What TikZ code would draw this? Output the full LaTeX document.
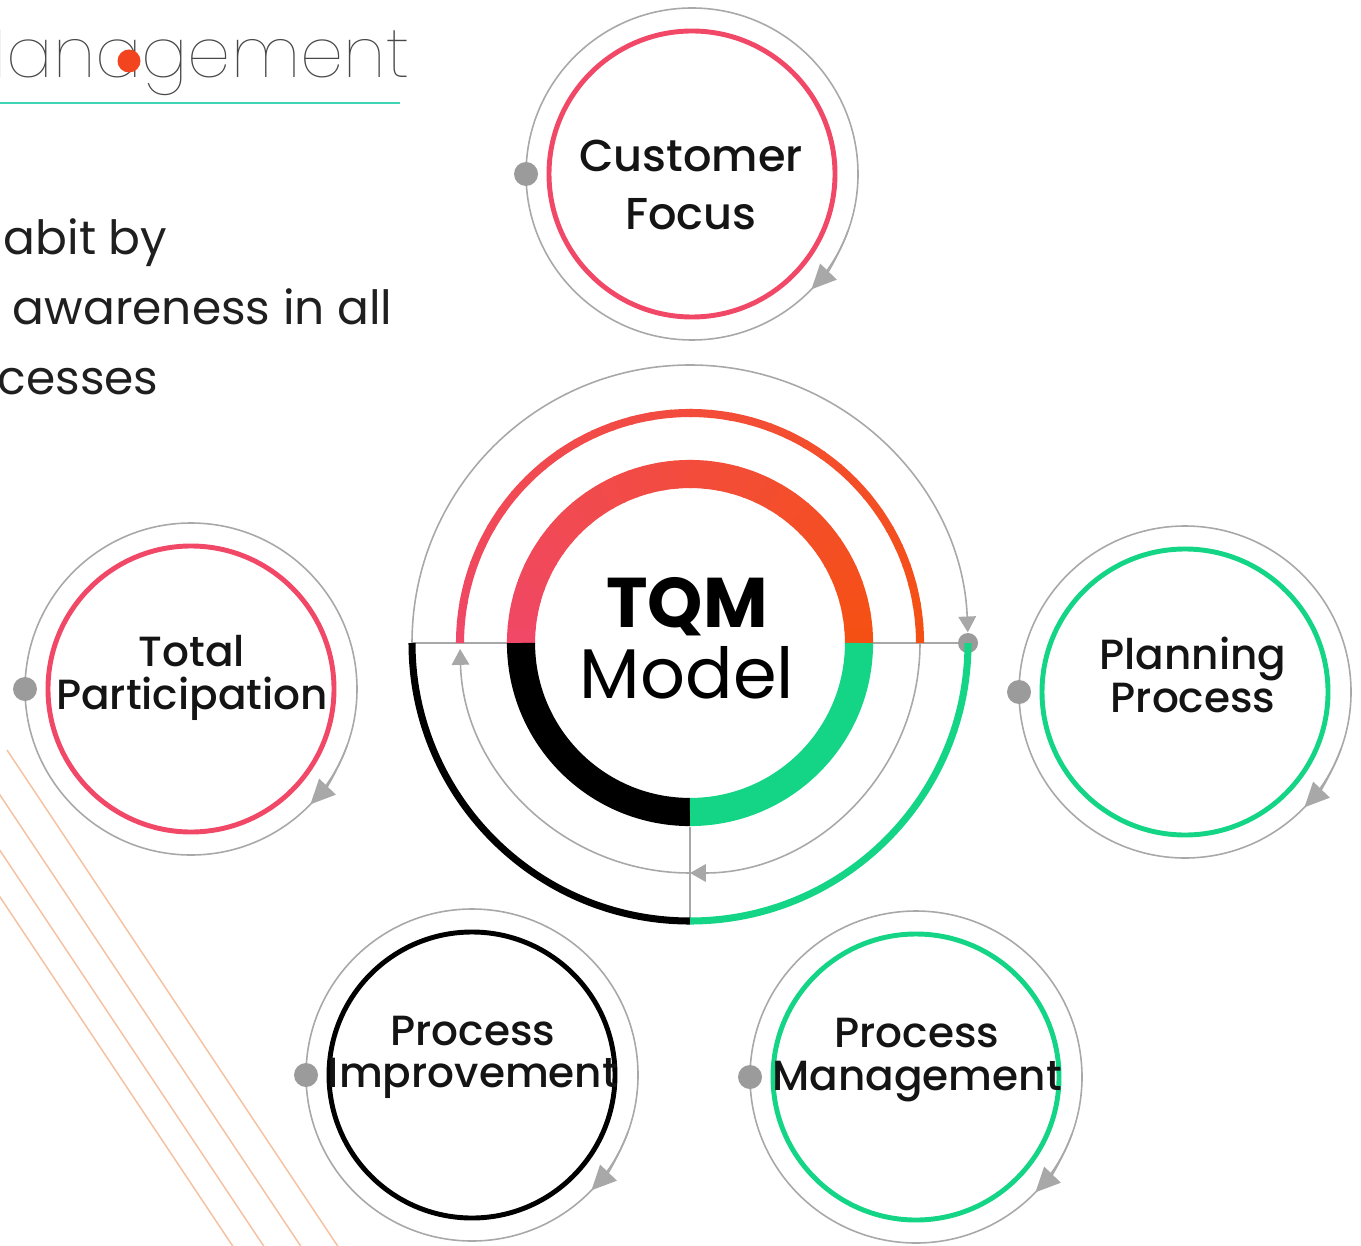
\documentclass[tikz,border=0pt]{standalone}
\usepackage{fontspec}
\setmainfont{Poppins}
\IfFontExistsTF{Poppins Medium}
  {\newfontfamily\medfont{Poppins Medium}}
  {\newfontfamily\medfont{Poppins}[FakeBold=0.4]}
\IfFontExistsTF{Poppins Thin}
  {\newfontfamily\thinfont{Poppins Thin}}
  {\IfFontExistsTF{Poppins ExtraLight}
    {\newfontfamily\thinfont{Poppins ExtraLight}}
    {\newfontfamily\thinfont{Poppins}}}
\usepackage{tikz}
\usetikzlibrary{arrows.meta}

\definecolor{tqmpink}{HTML}{F04866}
\definecolor{tqmorange}{HTML}{F55014}
\definecolor{tqmgreen}{HTML}{14D486}
\definecolor{ringgray}{HTML}{A8A8A8}
\definecolor{dotgray}{HTML}{9B9B9B}
\definecolor{titleteal}{HTML}{3ED6B4}
\definecolor{stripe}{HTML}{F5C0A0}
\definecolor{titledot}{HTML}{F2441E}

\begin{document}
\begin{tikzpicture}[x=0.01cm, y=0.01cm,
    thinring/.style={draw=ringgray, line width=0.45pt},
    cyclearrow/.style={-{Triangle[length=7pt, width=6.5pt]}},
    hubarrow/.style={-{Triangle[length=4.5pt, width=5pt]}},
    itemtext/.style={align=center, inner sep=0pt, text=black!92,
      font=\medfont\fontsize{12}{12}\selectfont},
    bodytext/.style={anchor=base west, inner sep=0pt, text=black!88,
      font=\fontsize{13.4}{20}\selectfont}]
  \useasboundingbox (0,0) rectangle (1361,-1246);
  \clip (0,0) rectangle (1361,-1246);

  % Diagonal stripes, lower left
  \foreach \sx in {2,33,70,107} {
    \draw[stripe, line width=0.4pt] (\sx-100,-750) -- (\sx+300,-1350);
  }

  % Heading and text
  \node[anchor=base east, inner sep=0pt, text=black!72,
    font=\thinfont\fontsize{19.6}{24}\selectfont] (title) at (410,-78) {Management};
  \fill[titledot] (129,-61) circle (11.5);
  \draw[titleteal, line width=0.7pt] (0,-103) -- (400,-103);
  \node[bodytext] (line1) at (3,-255) {abit by};
  \node[bodytext] (line2) at (12,-325) {awareness in all};
  \node[bodytext] (line3) at (-3,-395) {cesses};

  % Centres of the five small cycles
  \coordinate (cf) at (692,-174);
  \coordinate (tp) at (191,-689);
  \coordinate (pp) at (1185,-692);
  \coordinate (pi) at (472,-1075);
  \coordinate (pm) at (916,-1077);

  \foreach \c/\col in {cf/tqmpink, tp/tqmpink, pp/tqmgreen, pi/black, pm/tqmgreen} {
    \draw[thinring] (\c) circle (166);
    \draw[draw=\col, line width=1.4pt] (\c) circle (143);
    \draw[thinring, cyclearrow] (\c) ++(-20:166) arc (-20:-44:166);
    \fill[dotgray] (\c) ++(180:166) circle (12);
  }

  \node[itemtext, font=\medfont\fontsize{12.7}{16.5}\selectfont] (cftext) at (691,-185) {Customer\\Focus};
  \node[itemtext] (tptext) at (192,-678) {Total\\Participation};
  \node[itemtext] (pptext) at (1193,-675) {Planning\\Process};
  \node[itemtext] (pitext) at (473,-1057) {Process\\Improvement};
  \node[itemtext] (pmtext) at (917,-1060) {Process\\Management};

  % TQM hub
  \coordinate (hub) at (690,-643);
  \coordinate (hubW) at (412,-643);
  \coordinate (hubE) at (968,-643);
  \coordinate (hubS) at (690,-921);
  \coordinate (ringW) at (508,-643);
  \coordinate (ringE) at (873,-643);
  \coordinate (ringS) at (690,-827);

  \draw[thinring] (hubW) -- (ringW);
  \draw[thinring] (ringE) -- (hubE);
  \draw[thinring] (ringS) -- (hubS);

  % thin return arcs
  \draw[thinring, hubarrow] (hubW) arc (180:2.2:278);
  \draw[thinring, hubarrow] (hub) ++(0:230) arc (0:-90:230);
  \draw[thinring, hubarrow] (hub) ++(-90:230) arc (-90:-178.5:230);
  \fill[dotgray] (hubE) circle (10);

  % outer lower half
  \draw[black, line width=2pt] (hubW) arc (180:270:278);
  \draw[tqmgreen, line width=2pt] (hubS) arc (270:360:278);

  % upper halves, pink into orange
  \foreach \i in {0,...,35} {
    \pgfmathtruncatemacro\mix{100-\i*100/35}
    \pgfmathsetmacro\stop{max(0,174.5-5*\i)}
    \draw[tqmpink!\mix!tqmorange, line width=2.3pt] (hub) ++(180-5*\i:230) arc (180-5*\i:\stop:230);
    \draw[tqmpink!\mix!tqmorange, line width=8pt] (hub) ++(180-5*\i:169) arc (180-5*\i:\stop:169);
  }

  % inner ring, lower half
  \draw[black, line width=8pt] (hub) ++(180:169) arc (180:270:169);
  \draw[tqmgreen, line width=8pt] (hub) ++(270:169) arc (270:360:169);

  \node[align=center, inner sep=0pt, font=\fontsize{20}{20.2}\selectfont] (hubtext) at (687,-638)
    {{\bfseries TQM}\\Model};
\end{tikzpicture}
\end{document}
